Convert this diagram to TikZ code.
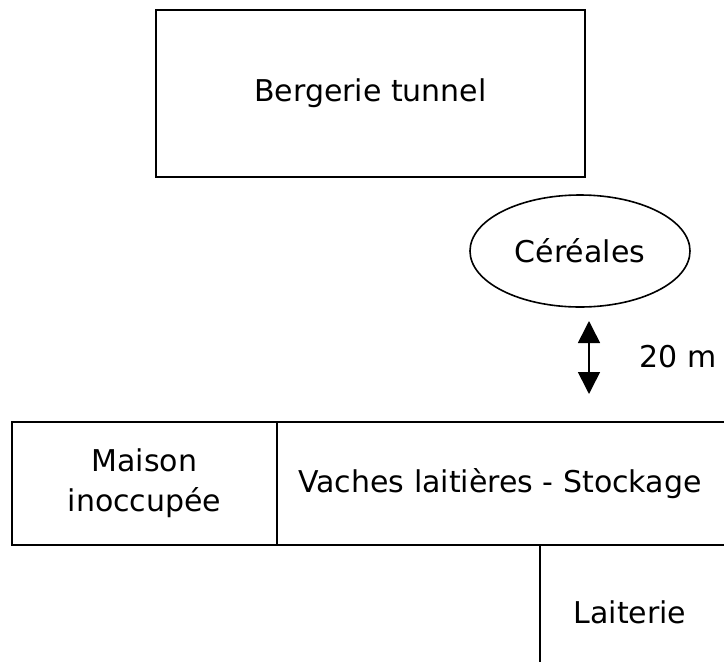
\documentclass[tikz,border=0pt]{standalone}
\usepackage{fontspec}
\setmainfont{DejaVu Sans}
\usetikzlibrary{shapes.geometric,arrows.meta}
\begin{document}
\begin{tikzpicture}[x=1pt,y=-1pt,
  bld/.style={draw=black,line width=2.2pt,rectangle,inner sep=0pt,font=\fontsize{30}{40}\selectfont,align=center},
  silo/.style={draw=black,line width=1.6pt,ellipse,inner sep=0pt,font=\fontsize{30}{40}\selectfont},
  lbl/.style={font=\fontsize{30}{40}\selectfont},
  dim/.style={line width=1.6pt,{Triangle[width=22pt,length=22pt]}-{Triangle[width=22pt,length=22pt]}}]
\useasboundingbox (0,0) rectangle (724,662);
\clip (0,0) rectangle (724,662);
\node[bld,minimum width=429pt,minimum height=167pt] (berg) at (370.5,93.5) {Bergerie tunnel};
\node[silo,minimum width=220pt,minimum height=112pt] (cer) at (580,251) {Céréales};
\coordinate (a1) at (589,321);
\coordinate (a2) at (589,394);
\draw[dim] (a1) -- (a2);
\node[lbl,anchor=west] (dist) at (636,357) {20 m};
\node[bld,minimum width=265pt,minimum height=123pt] (maison) at (144.5,483.5) {Maison\\inoccupée};
\node[bld,minimum width=460pt,minimum height=123pt] (vaches) at (507,483.5) {};
\node[lbl] (vachestxt) at (500,483.5) {Vaches laitières - Stockage};
\node[bld,minimum width=200pt,minimum height=160pt] (lait) at (640,625) {};
\node[lbl] (laittxt) at (630,612) {Laiterie};
\end{tikzpicture}
\end{document}
